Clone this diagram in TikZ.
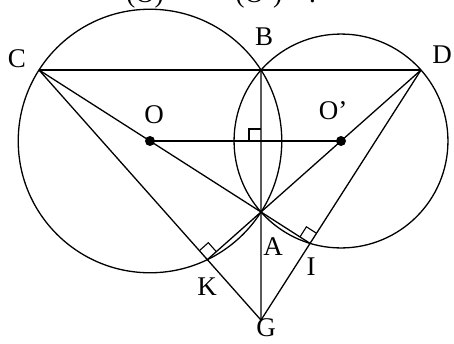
\documentclass[tikz,border=0pt]{standalone}
\usepackage{fontspec}
\setmainfont{Liberation Serif}
\usetikzlibrary{calc}

\begin{document}
\begin{tikzpicture}[x=1pt,y=-1pt,line width=1.3pt,font=\fontsize{27}{32}\selectfont,
  every node/.style={inner sep=0pt}]
\useasboundingbox (0,0) rectangle (454,343);
\coordinate (A) at (261,212); \coordinate (B) at (261,69);
\coordinate (O) at (150,141); \coordinate (O2) at (341,141);
\coordinate (C) at ($(A)!2!(O)$); \coordinate (D) at ($(A)!2!(O2)$);
\coordinate (K) at ($(D)!(C)!(A)$); \coordinate (I) at ($(C)!(D)!(A)$);
\coordinate (G) at (intersection of C--K and D--I);
\coordinate (H) at (intersection of O--O2 and A--B);
% the two circles through A and B
\draw let \p1=($(A)-(O)$) in (O) circle ({veclen(\x1,\y1)});
\draw let \p1=($(A)-(O2)$) in (O2) circle ({veclen(\x1,\y1)});
\draw (C) -- (D); \draw (C) -- (I); \draw (D) -- (K); \draw (O) -- (O2);
\draw (C) -- (G) -- (D); \draw (B) -- (G);
\fill (O) circle (5); \fill (O2) circle (5);
\foreach \p/\u/\v in {K/C/A,I/D/A,H/O/B}{
  \coordinate (m1) at ($(\p)!12pt!(\u)$); \coordinate (m2) at ($(\p)!12pt!(\v)$);
  \draw[line width=1.1pt] (m1) -- ($(m1)+(m2)-(\p)$) -- (m2);}
\node (lC) at (17,59){C}; \node (lB) at (264,37){B}; \node (lD) at (442,55){D};
\node (lO) at (154,115){O}; \node (lO2) at (333,111){O’};
\node (lA) at (273,247){A}; \node (lI) at (311,267){I};
\node (lK) at (207,287){K}; \node (lG) at (266,328){G};
\node[anchor=base] (hdO) at (145,2.5){(O)};
\node[anchor=base west] (hdO2) at (235,2.5){(O’)\quad.};
\end{tikzpicture}
\end{document}
